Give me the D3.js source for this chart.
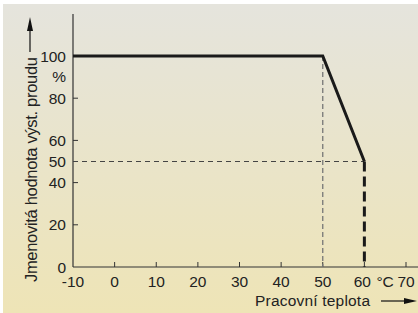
<!DOCTYPE html>
<html>
<head>
<meta charset="utf-8">
<script src="https://cdn.jsdelivr.net/npm/d3@7"></script>
<style>
  body { margin: 0; background: #fff; }
  svg { display: block; font-family: "Liberation Sans", Arial, sans-serif; }
</style>
</head>
<body>
<svg id="chart" width="418" height="313"></svg>
<script>
// data
let curveX = [-10, 50, 60];
let curveY = [100, 100, 50];
let dropX = [60, 60];
let dropY = [50, 0];
let xTicks = [-10, 0, 10, 20, 30, 40, 50, 60, 70];
let yTicks = [0, 20, 40, 50, 60, 80, 100];
let yTickMarks = [20, 40, 60, 80];
let xTitle = 'Pracovní teplota';
let yTitle = 'Jmenovitá hodnota výst. proudu';

let svg = d3.select('#chart');
let W = 418, H = 313;
let fs = 15.5;

// background gradient
let defs = svg.append('defs');
let grad = defs.append('linearGradient').attr('id', 'bg')
    .attr('x1', 0).attr('y1', 0).attr('x2', 0).attr('y2', 1);
grad.append('stop').attr('offset', '0%').attr('stop-color', '#e5e4dd');
grad.append('stop').attr('offset', '100%').attr('stop-color', '#eee4b6');
svg.append('rect').attr('x', 3).attr('y', 4).attr('width', W - 3).attr('height', H - 4)
    .attr('fill', 'url(#bg)');

let x = d3.scaleLinear().domain([-10, 70]).range([73, 406]);
let y = d3.scaleLinear().domain([0, 100]).range([267, 56]);
let ink = '#333';

// axes
svg.append('line').attr('x1', x(-10)).attr('x2', x(-10)).attr('y1', y(0)).attr('y2', 14)
    .attr('stroke', ink).attr('stroke-width', 1.2);
svg.append('line').attr('x1', x(-10)).attr('x2', W).attr('y1', y(0)).attr('y2', y(0))
    .attr('stroke', ink).attr('stroke-width', 1.2);

// tick marks
svg.append('g').selectAll('line').data(yTickMarks).enter().append('line')
    .attr('x1', x(-10)).attr('x2', x(-10) + 5)
    .attr('y1', d => y(d)).attr('y2', d => y(d))
    .attr('stroke', ink).attr('stroke-width', 1);
svg.append('g').selectAll('line').data(xTicks.slice(1)).enter().append('line')
    .attr('x1', d => x(d)).attr('x2', d => x(d))
    .attr('y1', y(0)).attr('y2', y(0) - 5)
    .attr('stroke', ink).attr('stroke-width', 1);

// tick labels
svg.append('g').selectAll('text').data(yTicks).enter().append('text')
    .attr('x', 66).attr('y', d => y(d) + 5.5)
    .attr('text-anchor', 'end').attr('font-size', fs).attr('fill', '#222')
    .text(d => d);
svg.append('text').attr('x', 66).attr('y', 82).attr('text-anchor', 'end')
    .attr('font-size', fs).attr('fill', '#222').text('%');
svg.append('g').selectAll('text').data(xTicks).enter().append('text')
    .attr('x', d => x(d) - (d == 60 ? 2 : 0)).attr('y', 287)
    .attr('text-anchor', 'middle').attr('font-size', fs).attr('fill', '#222')
    .text(d => d);
svg.append('text').attr('x', x(60) + 12).attr('y', 287)
    .attr('font-size', fs).attr('fill', '#222').text('°C');

// dashed guides
svg.append('line').attr('x1', x(-10)).attr('x2', x(60)).attr('y1', y(50)).attr('y2', y(50))
    .attr('stroke', '#444').attr('stroke-width', 1).attr('stroke-dasharray', '5,4');
svg.append('line').attr('x1', x(50)).attr('x2', x(50)).attr('y1', y(100)).attr('y2', y(0))
    .attr('stroke', '#777').attr('stroke-width', 1.3).attr('stroke-dasharray', '5,3');

// derating curve
let line = d3.line().x(d => x(d[0])).y(d => y(d[1]));
svg.append('path').attr('d', line(curveX.map((d, i) => [d, curveY[i]])))
    .attr('fill', 'none').attr('stroke', '#1a1a1a').attr('stroke-width', 3)
    .attr('stroke-linejoin', 'miter');
svg.append('path').attr('d', line(dropX.map((d, i) => [d, dropY[i]])))
    .attr('fill', 'none').attr('stroke', '#1a1a1a').attr('stroke-width', 3)
    .attr('stroke-dasharray', '10,5');

// axis titles with arrows
svg.append('text').attr('transform', 'translate(37,282) rotate(-90)')
    .attr('font-size', 16.5).attr('fill', '#222')
    .attr('textLength', 225).attr('lengthAdjust', 'spacing').text(yTitle);
svg.append('line').attr('x1', 30).attr('x2', 30).attr('y1', 52).attr('y2', 28)
    .attr('stroke', '#111').attr('stroke-width', 1.2);
svg.append('path').attr('d', 'M30,17 L27,31 L33,31 Z').attr('fill', '#111');

svg.append('text').attr('x', 255).attr('y', 306)
    .attr('font-size', fs).attr('fill', '#222')
    .attr('textLength', 115).attr('lengthAdjust', 'spacing').text(xTitle);
svg.append('line').attr('x1', 381).attr('x2', 405).attr('y1', 301).attr('y2', 301)
    .attr('stroke', '#111').attr('stroke-width', 1.2);
svg.append('path').attr('d', 'M417,301 L404,298 L404,304 Z').attr('fill', '#111');
</script>
</body>
</html>
